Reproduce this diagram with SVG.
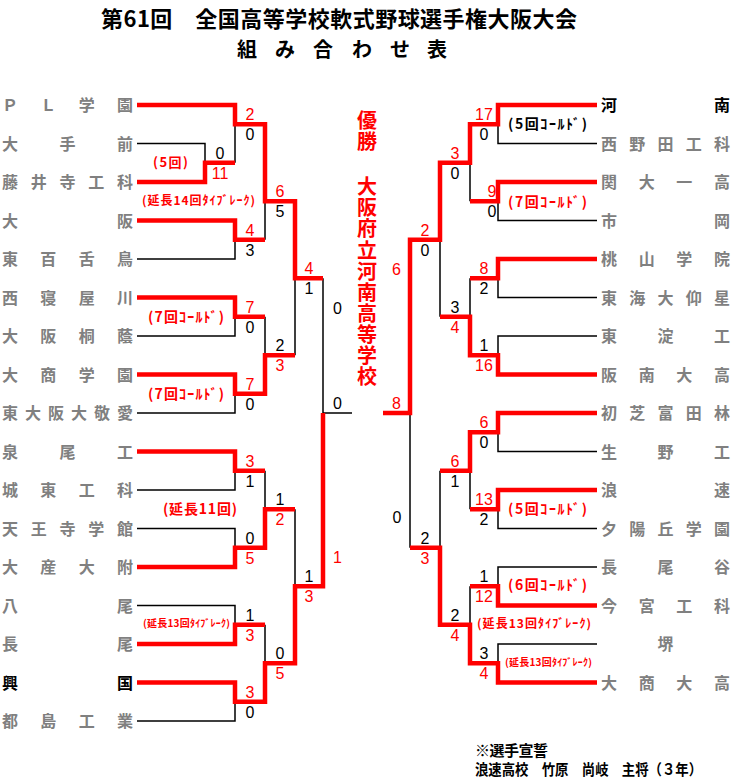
<svg xmlns="http://www.w3.org/2000/svg" width="734" height="779" viewBox="0 0 734 779">
<style>
.j{font-family:"Noto Sans CJK JP","Noto Sans CJK SC",sans-serif;font-weight:700}
.nm{font-size:16px;fill:#808080}
.nb{fill:#000}
.sc{font-family:"Liberation Sans",Arial,sans-serif;font-size:16px;text-anchor:middle}
.r{fill:#f00}
.k{fill:#000}
.rl{fill:none;stroke:#f00;stroke-width:4.5;stroke-linejoin:miter;stroke-linecap:butt}
.bl{fill:none;stroke:#000;stroke-width:1.5}
</style>
<rect width="734" height="779" fill="#fff"/>
<g id="title" class="j">
<text x="101" y="27" font-size="22" textLength="476" lengthAdjust="spacing">第61回　全国高等学校軟式野球選手権大阪大会</text>
<text x="237 275 313 352 390 427" y="57" font-size="20">組み合わせ表</text>
</g>
<g id="champion" class="j r" font-size="20" text-anchor="middle">
<text x="367 367" y="128 149">優勝</text>
<text x="367 367 367 367 367 367 367 367 367 367" y="194 215 236 258 279 300 321 342 363 384">大阪府立河南高等学校</text>
</g>
<g id="connectors">
<path class="bl" d="M137,143.5H205V162.75M137,259H235V239.75M137,336H235V316.75M137,413H235V393.75M137,490H235V470.75M137,528.5H235V547.75M137,605.5H235V624.75M137,721H235V701.75M235,162.75V124.25M265,239.75V201.25M265,316.75V355.25M295,355.25V278.25M265,470.75V509.25M295,509.25V586.25M265,624.75V663.25M323,278.25V413H352"/>
<path class="rl" d="M137,105H235V124.25H265V201.25H295V278.25H323"/>
<path class="rl" d="M137,182H205V162.75H235"/>
<path class="rl" d="M137,220.5H235V239.75H265"/>
<path class="rl" d="M137,297.5H235V316.75H265"/>
<path class="rl" d="M137,374.5H235V393.75H265V355.25H295"/>
<path class="rl" d="M137,451.5H235V470.75H265"/>
<path class="rl" d="M137,567H235V547.75H265V509.25H295"/>
<path class="rl" d="M137,644H235V624.75H265"/>
<path class="rl" d="M137,682.5H235V701.75H265V663.25H295V586.25H323V413"/>
<path class="bl" d="M597,143.5H498V124.25M597,220.5H498V201.25M597,297.5H498V278.25M597,336H498V355.25M597,451.5H498V432.25M597,528.5H498V509.25M597,567H498V586.25M597,644H498V663.25M470,201.25V162.75M470,278.25V316.75M440,316.75V239.75M440,470.75V547.75M470,509.25V470.75M470,586.25V624.75M410,547.75V413"/>
<path class="rl" d="M597,105H498V124.25H470V162.75H440V239.75H410V413H383"/>
<path class="rl" d="M597,182H498V201.25H470"/>
<path class="rl" d="M597,259H498V278.25H470"/>
<path class="rl" d="M597,374.5H498V355.25H470V316.75H440"/>
<path class="rl" d="M597,413H498V432.25H470V470.75H440"/>
<path class="rl" d="M597,490H498V509.25H470"/>
<path class="rl" d="M597,605.5H498V586.25H470"/>
<path class="rl" d="M597,682.5H498V663.25H470V624.75H440V547.75H410"/>
</g>
<g id="scores" class="sc">
<text class="k" x="220" y="158.75">0</text><text class="r" x="220" y="178.75">11</text>
<text class="r" x="250" y="120.25">2</text><text class="k" x="250" y="140.25">0</text>
<text class="r" x="250" y="235.75">4</text><text class="k" x="250" y="255.75">3</text>
<text class="r" x="280" y="197.25">6</text><text class="k" x="280" y="217.25">5</text>
<text class="r" x="250" y="312.75">7</text><text class="k" x="250" y="332.75">0</text>
<text class="r" x="250" y="389.75">7</text><text class="k" x="250" y="409.75">0</text>
<text class="k" x="280" y="351.25">2</text><text class="r" x="280" y="371.25">3</text>
<text class="r" x="309" y="274.25">4</text><text class="k" x="309" y="294.25">1</text>
<text class="r" x="250" y="466.75">3</text><text class="k" x="250" y="486.75">1</text>
<text class="k" x="250" y="543.75">0</text><text class="r" x="250" y="563.75">5</text>
<text class="k" x="280" y="505.25">1</text><text class="r" x="280" y="525.25">2</text>
<text class="k" x="250" y="620.75">1</text><text class="r" x="250" y="640.75">3</text>
<text class="r" x="250" y="697.75">3</text><text class="k" x="250" y="717.75">0</text>
<text class="k" x="280" y="659.25">0</text><text class="r" x="280" y="679.25">5</text>
<text class="k" x="309" y="582.25">1</text><text class="r" x="309" y="602.25">3</text>
<text class="k" x="337.5" y="314">0</text><text class="r" x="337.5" y="563">1</text><text class="k" x="337.5" y="409">0</text>
<text class="r" x="484" y="120.25">17</text><text class="k" x="484" y="140.25">0</text>
<text class="r" x="492" y="197.25">9</text><text class="k" x="492" y="217.25">0</text>
<text class="r" x="455" y="158.75">3</text><text class="k" x="455" y="178.75">0</text>
<text class="r" x="484" y="274.25">8</text><text class="k" x="484" y="294.25">2</text>
<text class="k" x="484" y="351.25">1</text><text class="r" x="484" y="371.25">16</text>
<text class="k" x="455" y="312.75">3</text><text class="r" x="455" y="332.75">4</text>
<text class="r" x="425" y="235.75">2</text><text class="k" x="425" y="255.75">0</text>
<text class="r" x="484" y="428.25">6</text><text class="k" x="484" y="448.25">0</text>
<text class="r" x="484" y="505.25">13</text><text class="k" x="484" y="525.25">2</text>
<text class="r" x="455" y="466.75">6</text><text class="k" x="455" y="486.75">1</text>
<text class="k" x="484" y="582.25">1</text><text class="r" x="484" y="602.25">12</text>
<text class="k" x="484" y="659.25">3</text><text class="r" x="484" y="679.25">4</text>
<text class="k" x="455" y="620.75">2</text><text class="r" x="455" y="640.75">4</text>
<text class="k" x="425" y="543.75">2</text><text class="r" x="425" y="563.75">3</text>
<text class="r" x="396.5" y="275">6</text><text class="k" x="397" y="523">0</text><text class="r" x="396.5" y="409">8</text>
</g>
<g id="notes" class="j">
<text class="r" x="153" y="166.7" font-size="13" textLength="35" lengthAdjust="spacing">(5回)</text>
<text class="r" x="142" y="205.3" font-size="12" textLength="113" lengthAdjust="spacing">(延長14回ﾀｲﾌﾞﾚｰｸ)</text>
<text class="r" x="148" y="322" font-size="14" textLength="76" lengthAdjust="spacing">(7回ｺｰﾙﾄﾞ)</text>
<text class="r" x="148" y="399" font-size="14" textLength="76" lengthAdjust="spacing">(7回ｺｰﾙﾄﾞ)</text>
<text class="r" x="163" y="514" font-size="14" textLength="74" lengthAdjust="spacing">(延長11回)</text>
<text class="r" x="143" y="626.6" font-size="10" textLength="87" lengthAdjust="spacing">(延長13回ﾀｲﾌﾞﾚｰｸ)</text>
<text class="k" x="508" y="129" font-size="14" textLength="79" lengthAdjust="spacing">(5回ｺｰﾙﾄﾞ)</text>
<text class="r" x="508" y="207" font-size="14" textLength="79" lengthAdjust="spacing">(7回ｺｰﾙﾄﾞ)</text>
<text class="r" x="508" y="514" font-size="14" textLength="79" lengthAdjust="spacing">(5回ｺｰﾙﾄﾞ)</text>
<text class="r" x="508" y="590" font-size="14" textLength="79" lengthAdjust="spacing">(6回ｺｰﾙﾄﾞ)</text>
<text class="r" x="477" y="628.3" font-size="12" textLength="114" lengthAdjust="spacing">(延長13回ﾀｲﾌﾞﾚｰｸ)</text>
<text class="r" x="505" y="665.6" font-size="10" textLength="87" lengthAdjust="spacing">(延長13回ﾀｲﾌﾞﾚｰｸ)</text>
</g>
<g class="j nm">
<g id="L00"><text x="2 40.3 78.7 117" y="111">ＰＬ学園</text></g>
<g id="L01"><text x="2 59.5 117" y="149.5">大手前</text></g>
<g id="L02"><text x="2 30.75 59.5 88.25 117" y="188">藤井寺工科</text></g>
<g id="L03"><text x="2 117" y="226.5">大阪</text></g>
<g id="L04"><text x="2 40.3 78.7 117" y="265">東百舌鳥</text></g>
<g id="L05"><text x="2 40.3 78.7 117" y="303.5">西寝屋川</text></g>
<g id="L06"><text x="2 40.3 78.7 117" y="342">大阪桐蔭</text></g>
<g id="L07"><text x="2 40.3 78.7 117" y="380.5">大商学園</text></g>
<g id="L08"><text x="2 25 48 71 94 117" y="419">東大阪大敬愛</text></g>
<g id="L09"><text x="2 59.5 117" y="457.5">泉尾工</text></g>
<g id="L10"><text x="2 40.3 78.7 117" y="496">城東工科</text></g>
<g id="L11"><text x="2 30.75 59.5 88.25 117" y="534.5">天王寺学館</text></g>
<g id="L12"><text x="2 40.3 78.7 117" y="573">大産大附</text></g>
<g id="L13"><text x="2 117" y="611.5">八尾</text></g>
<g id="L14"><text x="2 117" y="650">長尾</text></g>
<g id="L15"><text class="nb" x="2 117" y="688.5">興国</text></g>
<g id="L16"><text x="2 40.3 78.7 117" y="727">都島工業</text></g>
<g id="R00"><text class="nb" x="601 714" y="111">河南</text></g>
<g id="R01"><text x="601 629.25 657.5 685.75 714" y="149.5">西野田工科</text></g>
<g id="R02"><text x="601 638.7 676.3 714" y="188">関大一高</text></g>
<g id="R03"><text x="601 714" y="226.5">市岡</text></g>
<g id="R04"><text x="601 638.7 676.3 714" y="265">桃山学院</text></g>
<g id="R05"><text x="601 629.25 657.5 685.75 714" y="303.5">東海大仰星</text></g>
<g id="R06"><text x="601 657.5 714" y="342">東淀工</text></g>
<g id="R07"><text x="601 638.7 676.3 714" y="380.5">阪南大高</text></g>
<g id="R08"><text x="601 629.25 657.5 685.75 714" y="419">初芝富田林</text></g>
<g id="R09"><text x="601 657.5 714" y="457.5">生野工</text></g>
<g id="R10"><text x="601 714" y="496">浪速</text></g>
<g id="R11"><text x="601 629.25 657.5 685.75 714" y="534.5">夕陽丘学園</text></g>
<g id="R12"><text x="601 657.5 714" y="573">長尾谷</text></g>
<g id="R13"><text x="601 638.7 676.3 714" y="611.5">今宮工科</text></g>
<g id="R14"><text x="657.5" y="650">堺</text></g>
<g id="R15"><text x="601 638.7 676.3 714" y="688.5">大商大高</text></g>
</g>
<g id="oath" class="j" font-size="15">
<text x="475" y="756" textLength="73" lengthAdjust="spacing">※選手宣誓</text>
<text x="475" y="775" textLength="227" lengthAdjust="spacingAndGlyphs">浪速高校　竹原　尚岐　主将（３年）</text>
</g>
</svg>
